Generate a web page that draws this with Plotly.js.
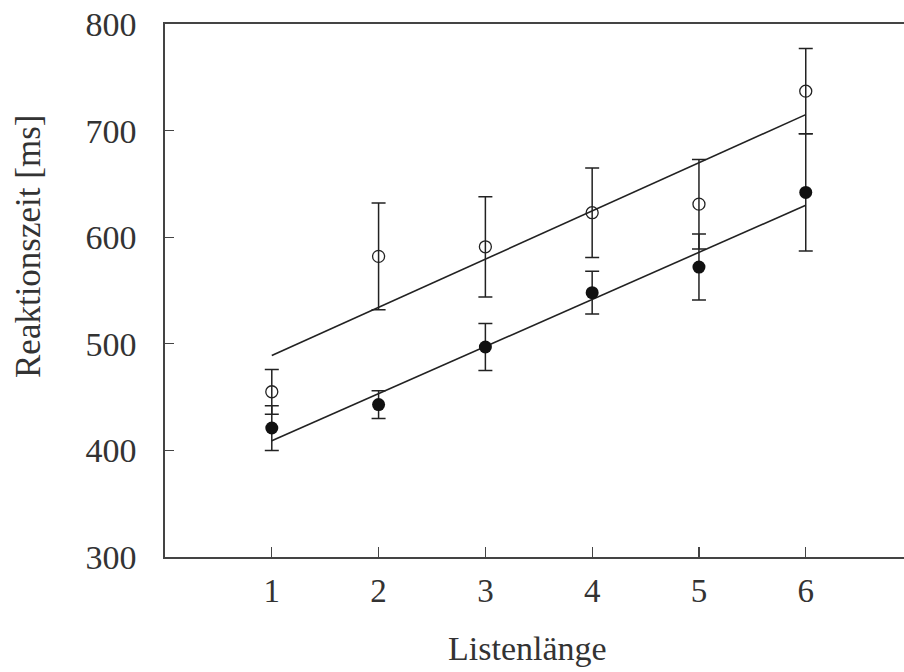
<!DOCTYPE html>
<html>
<head>
<meta charset="utf-8">
<script src="https://cdn.plot.ly/plotly-3.0.1.min.js"></script>
<style>html,body{margin:0;padding:0;background:#fff;}#chart{width:904px;height:672px;}</style>
</head>
<body>
<div id="chart"></div>
<script>
// Data
const listLength = [1, 2, 3, 4, 5, 6];
const openMeans = [455, 582, 591, 623, 631, 737];
const openErr = [21, 50, 47, 42, 42, 40];
const filledMeans = [421, 443, 497, 548, 572, 642];
const filledErr = [21, 13, 22, 20, 31, 55];
const fitX = [1, 6];
const fitOpen = [489, 715];
const fitFilled = [409, 630];
const xTicks = [1, 2, 3, 4, 5, 6];
const yTicks = [300, 400, 500, 600, 700, 800];

const ink = '#222';
const serif = '"Liberation Serif", "DejaVu Serif", serif';

const traces = [
  {x: fitX, y: fitOpen, mode: 'lines', line: {color: ink, width: 1.6}, hoverinfo: 'skip'},
  {x: fitX, y: fitFilled, mode: 'lines', line: {color: ink, width: 1.6}, hoverinfo: 'skip'},
  {x: listLength, y: openMeans, mode: 'markers',
   marker: {symbol: 'circle-open', size: 12, color: ink, line: {width: 1.3, color: ink}},
   error_y: {type: 'data', array: openErr, visible: true, color: ink, thickness: 1.5, width: 7}},
  {x: listLength, y: filledMeans, mode: 'markers',
   marker: {symbol: 'circle', size: 13, color: '#111'},
   error_y: {type: 'data', array: filledErr, visible: true, color: ink, thickness: 1.5, width: 7}}
];

const layout = {
  width: 904, height: 672,
  margin: {l: 165, r: 0, t: 24, b: 115},
  paper_bgcolor: '#fff', plot_bgcolor: '#fff',
  showlegend: false,
  font: {family: serif, size: 33, color: '#333'},
  xaxis: {
    range: [0, 6.92], tickvals: xTicks, ticktext: xTicks.map(String),
    ticks: 'inside', ticklen: 10, tickwidth: 1.3, tickcolor: '#444',
    showline: true, linecolor: '#444', linewidth: 1.6, mirror: true,
    showgrid: false, zeroline: false, ticklabelstandoff: 4,
    tickfont: {family: serif, size: 33, color: '#333'}
  },
  yaxis: {
    range: [300, 800], tickvals: yTicks, ticktext: yTicks.map(String),
    ticks: 'inside', ticklen: 9, tickwidth: 1.3, tickcolor: '#444',
    showline: true, linecolor: '#444', linewidth: 1.6, mirror: false,
    showgrid: false, zeroline: false, ticklabelstandoff: 20,
    tickfont: {family: serif, size: 34, color: '#333'}
  },
  annotations: [
    {text: 'Listenlänge', xref: 'paper', yref: 'paper', x: (527 - 165) / 739, y: -(648 - 557) / 533,
     showarrow: false, xanchor: 'center', yanchor: 'middle', font: {family: serif, size: 34, color: '#333'}},
    {text: 'Reaktionszeit [ms]', xref: 'paper', yref: 'paper', x: -(165 - 28) / 739, y: (557 - 247) / 533,
     showarrow: false, textangle: -90, xanchor: 'center', yanchor: 'middle', font: {family: serif, size: 35, color: '#333'}}
  ]
};

Plotly.newPlot('chart', traces, layout, {displayModeBar: false, staticPlot: true});
</script>
</body>
</html>
